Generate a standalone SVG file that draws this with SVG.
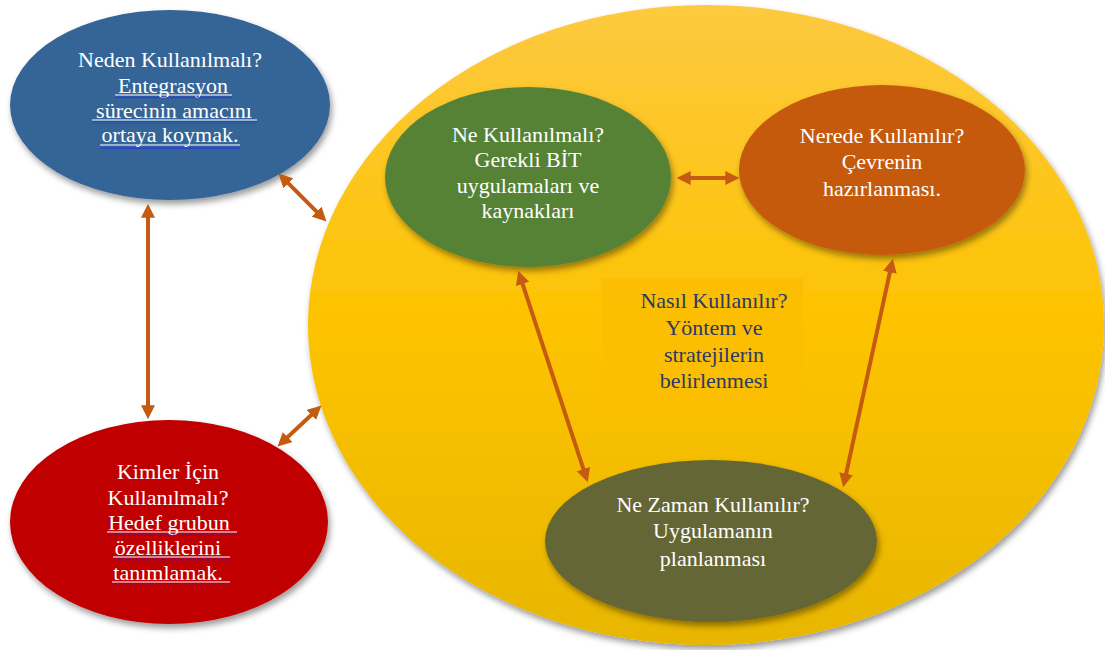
<svg xmlns="http://www.w3.org/2000/svg" width="1105" height="650" viewBox="0 0 1105 650">
  <style>
    text { font-family: 'Liberation Serif', 'DejaVu Serif', serif; }
    .lbl { font-size: 22px; text-anchor: middle; fill: #ffffff; }
    .dark { fill: #2b3a67; }
    .conn { stroke: #c55a11; stroke-width: 4; fill: none; marker-start: url(#head); marker-end: url(#head); }
    .ul { stroke: #ffffff; stroke-width: 1.2; }
    .wave { fill: url(#wavy); }
  </style>
  <defs>
    <linearGradient id="yellowGrad" x1="0" y1="0" x2="0" y2="1">
      <stop offset="0" stop-color="#fdc940"/>
      <stop offset="0.5" stop-color="#fdc300"/>
      <stop offset="1" stop-color="#e8b600"/>
    </linearGradient>
    <filter id="shadow" x="-10%" y="-10%" width="125%" height="130%">
      <feDropShadow dx="2" dy="4" stdDeviation="3" flood-color="#000000" flood-opacity="0.4"/>
    </filter>
    <marker id="head" viewBox="0 0 10 10" refX="0.5" refY="5" markerWidth="3.5" markerHeight="3.5" markerUnits="strokeWidth" orient="auto-start-reverse">
      <path d="M0,0 L10,5 L0,10 Z" fill="#c55a11"/>
    </marker>
    <pattern id="wavy" x="0" y="0" width="4" height="3" patternUnits="userSpaceOnUse">
      <path d="M0,2.5 L2,0.5 L4,2.5" fill="none" stroke="#1a1aff" stroke-width="0.9"/>
    </pattern>
  </defs>

  <rect width="1105" height="650" fill="#ffffff"/>

  <g id="outer-circle">
    <ellipse cx="706" cy="325" rx="398" ry="320" fill="url(#yellowGrad)" filter="url(#shadow)"/>
  </g>

  <g id="node-neden" font-family="Liberation Serif, serif">
    <ellipse cx="170" cy="105" rx="160" ry="95" fill="#346597" filter="url(#shadow)"/>
    <text class="lbl" x="170" y="67">Neden Kullanılmalı?</text>
    <text class="lbl" x="173" y="93">Entegrasyon</text>
    <text class="lbl" x="174" y="118">sürecinin amacını</text>
    <text class="lbl" x="170" y="142">ortaya koymak.</text>
    <line class="ul" x1="115" y1="95" x2="232" y2="95"/>
    <rect class="wave" x="115" y="96" width="117" height="3"/>
    <line class="ul" x1="92" y1="120" x2="257" y2="120"/>
    <rect class="wave" x="92" y="121" width="165" height="3"/>
    <line class="ul" x1="100" y1="145" x2="240" y2="145"/>
    <rect class="wave" x="100" y="146" width="140" height="3"/>
  </g>

  <g id="node-kimler">
    <ellipse cx="169" cy="522" rx="159" ry="102" fill="#c00000" filter="url(#shadow)"/>
    <text class="lbl" x="168" y="479">Kimler İçin</text>
    <text class="lbl" x="168" y="505">Kullanılmalı?</text>
    <text class="lbl" x="169" y="530">Hedef grubun</text>
    <text class="lbl" x="168" y="555">özelliklerini</text>
    <text class="lbl" x="168" y="580">tanımlamak.</text>
    <line class="ul" x1="107" y1="532" x2="237" y2="532"/>
    <rect class="wave" x="107" y="533" width="130" height="3"/>
    <line class="ul" x1="113" y1="557" x2="230" y2="557"/>
    <rect class="wave" x="113" y="558" width="117" height="3"/>
    <line class="ul" x1="112" y1="582" x2="230" y2="582"/>
    <rect class="wave" x="112" y="583" width="118" height="3"/>
  </g>

  <g id="node-nasil">
    <rect x="602" y="278" width="201" height="139" fill="#fbbd00" opacity="0.8"/>
    <text class="lbl dark" x="714" y="308">Nasıl Kullanılır?</text>
    <text class="lbl dark" x="714" y="335">Yöntem ve</text>
    <text class="lbl dark" x="714" y="362">stratejilerin</text>
    <text class="lbl dark" x="714" y="388">belirlenmesi</text>
  </g>

  <g id="node-ne">
    <ellipse cx="528" cy="177" rx="143" ry="90" fill="#548235" filter="url(#shadow)"/>
    <text class="lbl" x="528" y="142">Ne Kullanılmalı?</text>
    <text class="lbl" x="528" y="167">Gerekli BİT</text>
    <text class="lbl" x="528" y="193">uygulamaları ve</text>
    <text class="lbl" x="528" y="218">kaynakları</text>
  </g>

  <g id="node-nerede">
    <ellipse cx="882" cy="170" rx="143" ry="85" fill="#c55a11" filter="url(#shadow)"/>
    <text class="lbl" x="882" y="143">Nerede Kullanılır?</text>
    <text class="lbl" x="882" y="169">Çevrenin</text>
    <text class="lbl" x="882" y="196">hazırlanması.</text>
  </g>

  <g id="node-nezaman">
    <ellipse cx="711" cy="541" rx="166" ry="81" fill="#656634" filter="url(#shadow)"/>
    <text class="lbl" x="713" y="512">Ne Zaman Kullanılır?</text>
    <text class="lbl" x="713" y="538">Uygulamanın</text>
    <text class="lbl" x="713" y="566">planlanması</text>
  </g>

  <g id="connectors">
    <line class="conn" x1="287.9" y1="182.9" x2="317.1" y2="212.1"/>
    <line class="conn" x1="311.8" y1="414.5" x2="287.2" y2="437.5"/>
    <line class="conn" x1="148" y1="217" x2="148" y2="406"/>
    <line class="conn" x1="690" y1="178" x2="726" y2="178"/>
    <line class="conn" x1="522.4" y1="283.3" x2="583.6" y2="469.7"/>
    <line class="conn" x1="890" y1="271.7" x2="846" y2="474.3"/>
  </g>
</svg>
